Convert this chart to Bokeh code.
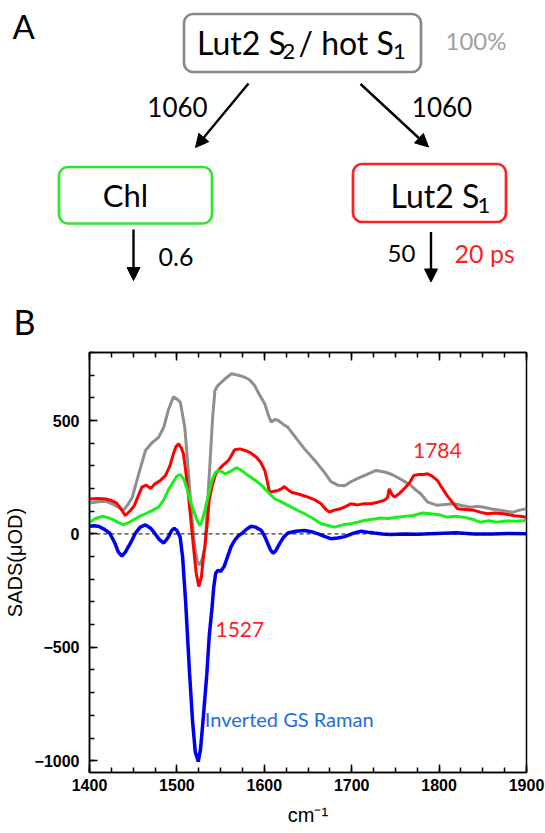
from bokeh.plotting import figure
from bokeh.models import (Range1d, BoxAnnotation, Arrow, NormalHead, LinearAxis,
                          FixedTicker, Span)
from bokeh.core.properties import value
from bokeh.embed import file_html
from bokeh.resources import INLINE

# ---------------- data ----------------
wn_gray = [1400, 1410, 1419, 1427, 1433, 1439, 1444, 1449, 1456, 1464, 1471, 1479, 1485, 1490,
           1496, 1500, 1504, 1509, 1512, 1515, 1518, 1520.5, 1523.5, 1526, 1529, 1532, 1535,
           1538, 1541, 1543.5, 1547, 1551, 1557, 1562.5, 1570, 1577.7, 1583, 1589, 1595,
           1600.5, 1605, 1608, 1612, 1616, 1621, 1627, 1636, 1646, 1654, 1661, 1669, 1676,
           1684, 1692, 1699, 1707, 1717, 1728, 1739, 1746, 1752, 1760, 1767.5, 1773, 1779,
           1787, 1798, 1807, 1817, 1826, 1836, 1844, 1851, 1860, 1870, 1877, 1885, 1892, 1900]
sads_gray = [136, 142, 144, 130, 118, 105, 130, 162, 260, 368, 400, 426, 470, 544,
             605, 595, 580, 470, 330, 178, 40, -58, -125, -137, -110, -58, 130,
             324, 520, 632, 655, 669, 690, 706, 700, 691, 680, 654, 610,
             574, 520, 493, 505, 500, 485, 470, 425, 375, 340, 309, 270, 232,
             215, 212, 230, 245, 262, 280, 272, 262, 250, 232, 214, 195, 177,
             140, 126, 130, 133, 125, 118, 122, 118, 110, 104, 100, 96, 105, 111]

wn_red = [1400, 1410, 1419, 1426, 1431, 1436, 1441, 1446, 1451, 1456, 1460, 1465, 1470, 1475,
          1481, 1487, 1492, 1496, 1499, 1502, 1505, 1507.5, 1510, 1513, 1516, 1519, 1522,
          1525, 1528, 1530, 1532, 1535, 1537, 1540, 1544, 1547, 1552, 1559, 1563, 1566,
          1572, 1578, 1584, 1591, 1596, 1600.5, 1603, 1606, 1611, 1616, 1620, 1623, 1627,
          1631, 1640, 1650, 1658, 1665, 1670, 1674.5, 1680, 1686, 1692, 1699, 1707, 1714,
          1722, 1730, 1737, 1741, 1743, 1746, 1749, 1755, 1760, 1766, 1771, 1777, 1782,
          1787, 1792, 1798, 1803, 1809, 1815, 1821, 1830, 1840, 1848, 1855, 1864, 1874,
          1886, 1893, 1900]
sads_red = [154, 156, 154, 146, 136, 110, 81, 100, 122, 170, 206, 215, 200, 221,
            235, 258, 300, 353, 385, 397, 380, 353, 280, 177, 60, -58, -170,
            -232, -190, -110, -58, 60, 150, 206, 260, 280, 300, 324, 350, 371,
            375, 368, 358, 338, 315, 280, 240, 184, 188, 192, 200, 209, 195,
            184, 175, 162, 150, 133, 110, 96, 105, 110, 118, 133, 128, 133,
            133, 140, 148, 160, 199, 175, 162, 180, 199, 225, 258, 262, 262,
            265, 255, 236, 205, 170, 140, 111, 108, 104, 95, 89, 92, 89,
            80, 78, 74]

wn_green = [1400, 1407, 1415, 1421, 1427, 1433, 1439, 1445, 1449, 1456, 1464, 1471, 1479, 1485,
            1490, 1496, 1500, 1504, 1508, 1511, 1515, 1519, 1523, 1526.4, 1529, 1532, 1536,
            1540, 1544, 1547.4, 1551, 1555, 1561, 1568, 1574, 1581.5, 1589, 1597, 1604,
            1612, 1620, 1627, 1636, 1646, 1655, 1665, 1672, 1680, 1690, 1699, 1707, 1714,
            1724, 1733, 1742, 1752, 1762, 1771, 1781, 1790, 1800, 1809, 1818, 1828, 1838,
            1847, 1857, 1866, 1877, 1888, 1900]
sads_green = [51, 68, 78, 72, 63, 50, 41, 50, 59, 75, 89, 102, 118, 150,
              192, 230, 255, 262, 240, 206, 150, 104, 60, 37, 60, 104, 170,
              236, 270, 280, 275, 265, 275, 292, 280, 258, 238, 214, 185,
              155, 140, 126, 108, 89, 70, 45, 38, 30, 40, 45, 52, 59,
              65, 70, 68, 74, 78, 81, 92, 89, 85, 74, 78, 74, 65,
              52, 58, 52, 57, 56, 59]

wn_raman = [1400, 1405, 1411, 1417, 1423, 1429, 1433, 1437, 1441, 1447, 1452, 1458, 1464, 1470,
            1475, 1480, 1485, 1490, 1494, 1497, 1500, 1503.7, 1506.5, 1510, 1514.5, 1518,
            1521, 1524.4, 1527, 1530, 1534.3, 1537, 1540.3, 1542, 1544.3, 1547, 1550, 1554,
            1558, 1562, 1566, 1570, 1574, 1580, 1585, 1590, 1596.7, 1601, 1604, 1607, 1610,
            1613, 1617.5, 1622, 1627, 1636, 1646, 1654, 1661, 1668, 1676, 1684, 1692, 1700,
            1706, 1711, 1718, 1726, 1735, 1745, 1760, 1775, 1790, 1805, 1820, 1840, 1860,
            1880, 1900]
sads_raman = [34, 36, 33, 20, 4, -40, -80, -98, -80, -40, 0, 30, 40, 25,
              1, -25, -40, -15, 15, 25, 15, -14, -100, -300, -615, -830,
              -960, -1004, -950, -820, -615, -450, -321, -240, -174, -160, -166, -144,
              -100, -56, -29, -10, 1, 22, 34, 30, 15, -15, -43, -70, -85,
              -75, -43, -15, 4, 12, 15, 10, 1, -10, -21, -18, -12, 0,
              8, 12, 8, 4, 0, -2, 0, -1, 1, 3, 5, 0, 0,
              2, 1]

x_major = [1400, 1500, 1600, 1700, 1800, 1900]
x_minor = list(range(1400, 1901, 25))
y_major = [-1000, -500, 0, 500]
y_minor = list(range(-1000, 801, 100))

FONT = value("Lato")
AXF = "Liberation Sans"

# ---------------- panel A: kinetic scheme (page-pixel coordinates) ----------------
pa = figure(width=545, height=345, x_range=Range1d(0, 545), y_range=Range1d(345, 0),
            output_backend="svg", toolbar_location=None,
            x_axis_location=None, y_axis_location=None, min_border=0,
            outline_line_color=None)
pa.grid.visible = False

for (l, r, t, b, c) in [(183.5, 420.5, 13.5, 71.5, "#888888"),
                        (58.5, 211.5, 166.5, 223.0, "#2fe62f"),
                        (352.5, 505.5, 163.5, 221.5, "#ff1f1f")]:
    pa.add_layout(BoxAnnotation(left=l, right=r, top=t, bottom=b, fill_color=None,
                                fill_alpha=0, line_color=c, line_alpha=1.0,
                                line_width=2.7, border_radius=9))

for (x0, y0, x1, y1) in [(248, 83, 195, 147), (360, 83.5, 428, 146.5),
                         (133, 229, 133, 280), (430.5, 231.5, 430.5, 281.5)]:
    pa.add_layout(Arrow(x_start=x0, y_start=y0, x_end=x1, y_end=y1, line_width=2.4,
                        line_color="black",
                        end=NormalHead(size=13, fill_color="black", line_color="black",
                                       line_width=1)))

def txt(x, y, s, size, color="black", align="left"):
    # y is the vertical centre of the capitals / digits
    pa.text(x=[x], y=[y], text=[s], text_font=FONT, text_font_size=size,
            text_color=color, text_align=align, text_baseline="middle")

txt(12, 25.5, "A", "33px")
txt(13, 321, "B", "34px")
txt(196.5, 42, "Lut2 S", "32px")
txt(282, 51, "2", "22px")
txt(298, 42, "/ hot S", "32px")
txt(392.5, 51, "1", "22px")
txt(445, 39.5, "100%", "24px", color="#a0a0a0")
txt(177, 106, "1060", "26px", align="center")
txt(441.5, 106, "1060", "26px", align="center")
txt(125, 194.5, "Chl", "31px", align="center")
txt(390, 194.5, "Lut2 S", "32px")
txt(477, 204.5, "1", "22px")
txt(158, 256, "0.6", "25px")
txt(387, 252.5, "50", "24px")
txt(454, 252.5, "20 ps", "25px", color="#ff1f1f")

# ---------------- panel B: SADS ----------------
pb = figure(width=545, height=488, x_range=Range1d(1400, 1900), y_range=Range1d(-1052, 800),
            output_backend="svg", toolbar_location=None,
            min_border_left=87, min_border_right=19, min_border_top=7, min_border_bottom=61,
            outline_line_color="black", outline_line_width=1.5)
pb.grid.visible = False

pb.add_layout(Span(location=0, dimension="width", line_color="black", line_width=1,
                   line_dash="4 3"))

pb.line(wn_gray, sads_gray, line_color="#8f8f8f", line_width=3)
pb.line(wn_red, sads_red, line_color="#ff0000", line_width=3)
pb.line(wn_green, sads_green, line_color="#19f019", line_width=3)
pb.line(wn_raman, sads_raman, line_color="#0000f0", line_width=3.5)

pb.text(x=[1798], y=[366], text=["1784"], text_font=FONT, text_font_size="21px",
        text_color="#ff1f1f", text_align="center", text_baseline="middle")
pb.text(x=[1572], y=[-420], text=["1527"], text_font=FONT, text_font_size="21px",
        text_color="#ff1f1f", text_align="center", text_baseline="middle")
pb.text(x=[1532], y=[-815], text=["Inverted GS Raman"], text_font=FONT,
        text_font_size="20px", text_color="#1f6fd6", text_align="left",
        text_baseline="middle")

# top axis: ticks only (no labels), long ticks at the hundreds, short ones every 25
top_minor = LinearAxis(ticker=FixedTicker(ticks=[], minor_ticks=x_minor), axis_label=None)
top_major = LinearAxis(ticker=FixedTicker(ticks=[], minor_ticks=x_major), axis_label=None)
pb.add_layout(top_minor, "above")
pb.add_layout(top_major, "above")

pb.below[0].ticker = FixedTicker(ticks=x_major, minor_ticks=x_minor)
pb.left[0].ticker = FixedTicker(ticks=y_major, minor_ticks=y_minor)

for ax in (pb.below[0], pb.left[0], top_minor, top_major):
    ax.major_tick_in = 8
    ax.major_tick_out = 0
    ax.minor_tick_in = 5
    ax.minor_tick_out = 0
    ax.axis_line_width = 1.5
    ax.major_tick_line_width = 1.5
    ax.minor_tick_line_width = 1.5
    ax.axis_line_color = "black"
    ax.major_tick_line_color = "black"
    ax.minor_tick_line_color = "black"
top_major.minor_tick_in = 8
top_major.axis_line_color = None

for ax in (pb.below[0], pb.left[0]):
    ax.major_label_text_font = AXF
    ax.major_label_text_font_style = "bold"
    ax.major_label_text_font_size = "16px"
    ax.major_label_text_color = "black"
    ax.axis_label_text_font = AXF
    ax.axis_label_text_font_style = "normal"
    ax.axis_label_text_font_size = "20px"
    ax.axis_label_text_color = "black"

pb.below[0].axis_label = "cm⁻¹"
pb.below[0].major_label_standoff = 6
pb.below[0].axis_label_standoff = 10
pb.left[0].axis_label = "SADS(μOD)"
pb.left[0].major_label_standoff = 10
pb.left[0].axis_label_standoff = 6

open("out.html", "w").write(file_html([pa, pb], INLINE))
